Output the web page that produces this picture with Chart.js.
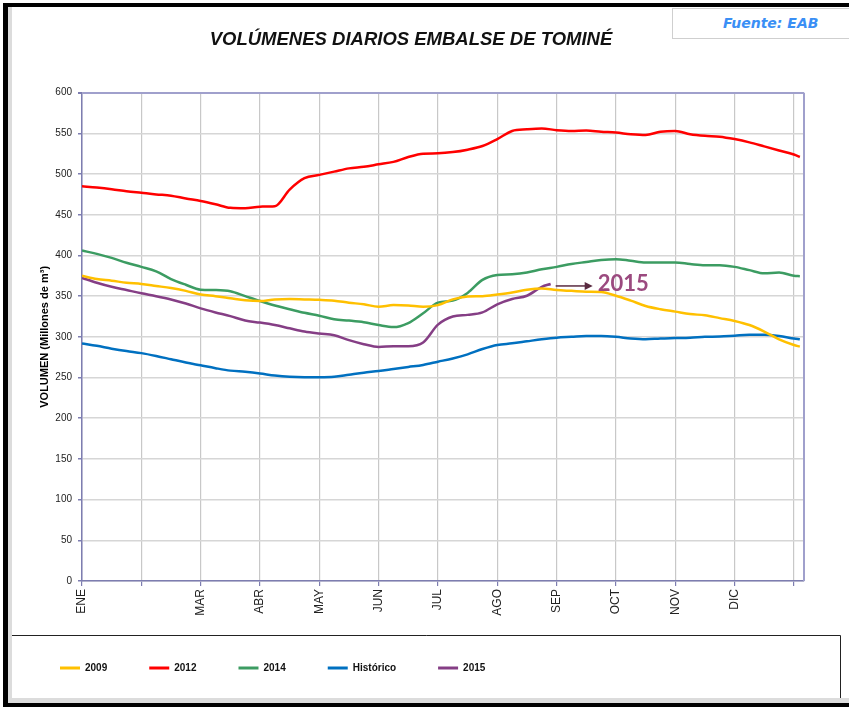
<!DOCTYPE html>
<html>
<head>
<meta charset="utf-8">
<script src="https://cdn.jsdelivr.net/npm/chart.js@4.4.1/dist/chart.umd.min.js"></script>
<style>
  html, body { margin: 0; padding: 0; background: #fff; }
  #wrap { position: relative; width: 849px; height: 707px; overflow: hidden; }
  #fuente {
    position: absolute; left: 672px; top: 8px; width: 190px; height: 31px;
    border: 1px solid #cfcfcf; background: #fff; box-sizing: border-box;
    font: italic bold 14px 'DejaVu Sans', sans-serif; color: #3a8ff5;
    line-height: 29px; padding-left: 50px;
  }
</style>
</head>
<body>
<div id="wrap">
  <canvas id="chart" width="849" height="707"></canvas>
  <div id="fuente">Fuente: EAB</div>
</div>
<script>
// month ticks on the x axis (position = month index)
const monthLabels = ['ENE', '', 'MAR', 'ABR', 'MAY', 'JUN', 'JUL', 'AGO', 'SEP', 'OCT', 'NOV', 'DIC', ''];

// sample positions, in months from 1 Jan
const monthPos = [0, 0.25, 0.5, 0.75, 1, 1.25, 1.5, 1.75, 2, 2.25, 2.5, 2.75, 3, 3.25, 3.5, 3.75,
  4, 4.25, 4.5, 4.75, 5, 5.25, 5.5, 5.75, 6, 6.25, 6.5, 6.75, 7, 7.25, 7.5, 7.75,
  8, 8.25, 8.5, 8.75, 9, 9.25, 9.5, 9.75, 10, 10.25, 10.5, 10.75, 11, 11.25, 11.5, 11.75, 12, 12.1];
const monthPos2015 = [0, 0.25, 0.5, 0.75, 1, 1.25, 1.5, 1.75, 2, 2.25, 2.5, 2.75, 3, 3.25, 3.5, 3.75,
  4, 4.25, 4.5, 4.75, 5, 5.25, 5.5, 5.75, 6, 6.25, 6.5, 6.75, 7, 7.25, 7.5, 7.75, 7.9];

// volumes, millones de m3
const vol2009 = [375, 371, 369, 366.5, 365, 362.5, 360, 356.5, 352, 350,
  347.5, 345, 344, 346, 346.5, 346, 345.5, 344.5, 342, 340,
  337, 339, 338.5, 337, 339, 346, 349.5, 350, 352, 354.5,
  358, 359.5, 357.5, 356.5, 355.5, 355, 350.5, 344.5, 338, 334,
  331, 328, 326.5, 323, 319.5, 314.5, 306.5, 297, 290, 288];
const vol2012 = [485, 483.5, 481.5, 479, 477, 475, 473.5, 470, 467, 463,
  458.5, 458, 460, 460.5, 481, 495, 499, 503, 507, 509,
  512, 515, 521, 525, 525.5, 527, 530, 534.5, 543, 553,
  555, 556, 554, 553, 553.5, 552, 551, 549, 548, 552,
  553, 549, 547, 546, 543, 539, 534, 529, 524, 521];
const vol2014 = [406, 402, 397, 391, 386, 380.5, 371, 364, 358, 357.5,
  356, 350, 344, 338.5, 334, 329.5, 326, 321.5, 320, 318,
  314.5, 312, 317, 329, 342, 344.5, 354, 370, 376, 377,
  379, 383, 386, 389.5, 392, 394.5, 395.5, 393.5, 391.5, 391.5,
  391.5, 389.5, 388, 388, 386, 382, 378, 379, 375, 374.5];
const volHistorico = [292, 289, 285.5, 282.5, 280, 276.5, 272.5, 268.5, 265, 261.5,
  258.5, 257, 255, 252.5, 251, 250.5, 250.5, 251, 253.5, 256,
  258, 260.5, 263, 265.5, 269.5, 273.5, 278.5, 285, 290, 292,
  294.5, 297, 299, 300, 301, 301, 300, 298, 297, 298,
  298.5, 299, 300, 300.5, 301.5, 302.5, 302.5, 301, 298, 297];
const vol2015 = [372.5, 366.5, 361.5, 357.5, 353.5, 350, 346, 341, 335, 330,
  325.5, 320, 317.5, 314.5, 310.5, 306.5, 304, 302, 296, 291,
  287.5, 288.5, 288.5, 293, 315, 325, 327, 330, 340, 346.5,
  350.5, 361.5, 365];

const points = (xs, ys) => ys.map((y, i) => ({ x: xs[i], y: y }));

// frame, legend box, plot border and the 2015 pointer
const framePlugin = {
  id: 'frame',
  beforeDraw(chart) {
    const c = chart.ctx;
    c.save();
    c.fillStyle = '#fff';
    c.fillRect(0, 0, chart.width, chart.height);
    c.fillStyle = '#dcdcdc';
    c.fillRect(8, 7, 4, 696);
    c.fillRect(8, 698, 841, 5);
    c.fillStyle = '#000';
    c.fillRect(3, 3, 846, 4);
    c.fillRect(3, 3, 5, 704);
    c.fillRect(3, 703, 846, 4);
    c.strokeStyle = '#222';
    c.lineWidth = 1;
    c.beginPath();
    c.moveTo(12, 635.5);
    c.lineTo(840.5, 635.5);
    c.lineTo(840.5, 698);
    c.stroke();
    c.restore();
  },
  afterDraw(chart) {
    const c = chart.ctx;
    const a = chart.chartArea;
    c.save();
    c.strokeStyle = '#a0a0cc';
    c.lineWidth = 2;
    c.beginPath();
    c.moveTo(a.right, a.top);
    c.lineTo(a.right, a.bottom);
    c.stroke();

    // arrow pointing from the last 2015 value to its label
    const meta = chart.getDatasetMeta(4);
    const last = meta.data[meta.data.length - 1];
    const x0 = last.x + 5, x1 = last.x + 42, y = last.y + 2;
    c.strokeStyle = '#5a2a40';
    c.fillStyle = '#5a2a40';
    c.lineWidth = 1.5;
    c.beginPath();
    c.moveTo(x0, y);
    c.lineTo(x1 - 6, y);
    c.stroke();
    c.beginPath();
    c.moveTo(x1, y);
    c.lineTo(x1 - 8, y - 4);
    c.lineTo(x1 - 8, y + 4);
    c.closePath();
    c.fill();
    c.fillStyle = '#9b4a7f';
    c.font = 'bold 22px Lato, sans-serif';
    c.textBaseline = 'middle';
    c.fillText(chart.data.datasets[4].label, x1 + 5, y - 2);
    c.restore();
  }
};

Chart.defaults.font.family = "'Liberation Sans', Arial, sans-serif";

const line = (label, xs, ys, color) => ({
  label: label,
  data: points(xs, ys),
  borderColor: color,
  backgroundColor: color,
  borderWidth: 2.5,
  pointRadius: 0,
  cubicInterpolationMode: 'monotone'
});

new Chart(document.getElementById('chart'), {
  type: 'line',
  data: {
    datasets: [
      line('2009', monthPos, vol2009, '#ffc000'),
      line('2012', monthPos, vol2012, '#ff0000'),
      line('2014', monthPos, vol2014, '#3c9c62'),
      line('Histórico', monthPos, volHistorico, '#0070c0'),
      line('2015', monthPos2015, vol2015, '#853e85')
    ]
  },
  options: {
    responsive: false,
    animation: false,
    layout: { padding: { left: 18, right: 45, top: 8, bottom: 24 } },
    scales: {
      x: {
        type: 'linear',
        bounds: 'data',
        min: 0,
        max: 12.17,
        afterBuildTicks: s => { s.ticks = monthLabels.map((l, i) => ({ value: i })); },
        afterFit: s => { s.height = 40; s.paddingLeft = 0; s.paddingRight = 0; },
        ticks: {
          autoSkip: false,
          minRotation: 90,
          maxRotation: 90,
          padding: 3,
          color: '#222',
          font: { size: 12 },
          callback: v => monthLabels[Math.round(v)]
        },
        grid: { color: '#c8c8c8', lineWidth: 1.2, tickColor: '#7d7db0', tickLength: 5 },
        border: { color: '#7d7db0', width: 1.5 }
      },
      y: {
        min: 0,
        max: 600,
        afterFit: s => { s.width = 64; s.paddingTop = 0; s.paddingBottom = 0; },
        ticks: { stepSize: 50, padding: 6, color: '#222', font: { size: 10 } },
        grid: {
          color: c => c.tick.value === 600 ? '#a0a0cc' : '#d6d6d6',
          lineWidth: c => c.tick.value === 600 ? 2 : 1.5,
          tickColor: '#7d7db0',
          tickLength: 4
        },
        border: { color: '#7d7db0', width: 1.5 },
        title: {
          display: true,
          text: 'VOLUMEN (Millones de m³)',
          color: '#000',
          font: { size: 11, weight: 'bold' },
          padding: { top: 20, bottom: 0 }
        }
      }
    },
    plugins: {
      title: {
        display: true,
        text: 'VOLÚMENES DIARIOS EMBALSE DE TOMINÉ',
        color: '#111',
        font: { size: 18.5, style: 'italic', weight: 'bold' },
        padding: { top: 20.5, bottom: 42 }
      },
      legend: {
        position: 'bottom',
        align: 'start',
        labels: {
          boxWidth: 20,
          boxHeight: 3,
          padding: 42,
          color: '#111',
          font: { size: 10, weight: 'bold' },
          generateLabels: chart => Chart.defaults.plugins.legend.labels.generateLabels(chart)
            .map(l => Object.assign(l, { lineWidth: 0 }))
        }
      },
      tooltip: { enabled: false }
    }
  },
  plugins: [framePlugin]
});
</script>
</body>
</html>
